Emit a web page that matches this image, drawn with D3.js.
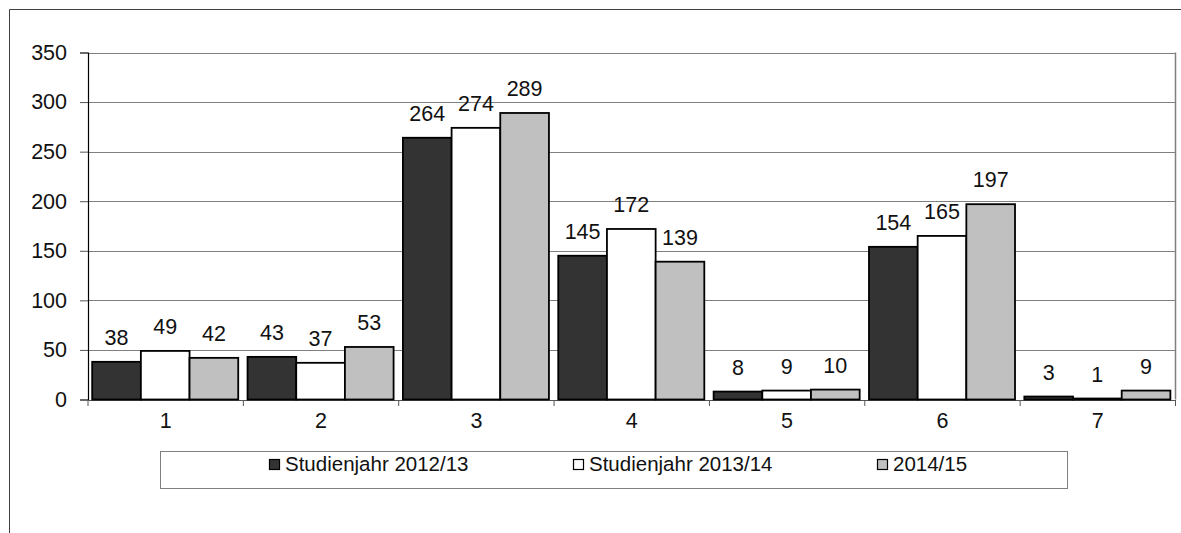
<!DOCTYPE html>
<html>
<head>
<meta charset="utf-8">
<script src="https://cdn.jsdelivr.net/npm/d3@7"></script>
<style>
  html, body { margin: 0; padding: 0; background: #fff; }
  svg { display: block; }
  text { font-family: "Liberation Sans", Arial, sans-serif; fill: #111; }
</style>
</head>
<body>
<svg id="chart" width="1181" height="533"></svg>
<script>
const categories = ["1", "2", "3", "4", "5", "6", "7"];
const seriesNames = ["Studienjahr 2012/13", "Studienjahr 2013/14", "2014/15"];
const values2012 = [38, 43, 264, 145, 8, 154, 3];
const values2013 = [49, 37, 274, 172, 9, 165, 1];
const values2014 = [42, 53, 289, 139, 10, 197, 9];
const yTicks = [0, 50, 100, 150, 200, 250, 300, 350];
const seriesColors = ["#333333", "#ffffff", "#c0c0c0"];

const seriesValues = [values2012, values2013, values2014];

const svg = d3.select("#chart");
const W = 1181, H = 533;
const numFont = 21.5;

// outer frame
svg.append("line").attr("x1", 9.5).attr("y1", 9.5).attr("x2", W).attr("y2", 9.5)
  .attr("stroke", "#404040").attr("stroke-width", 1);
svg.append("line").attr("x1", 9.5).attr("y1", 9.5).attr("x2", 9.5).attr("y2", H)
  .attr("stroke", "#404040").attr("stroke-width", 1);

const plot = { left: 88, right: 1175.5, top: 52.5, bottom: 399.5 };

const x0 = d3.scaleBand().domain(categories).range([plot.left, plot.right]).padding(0);
const bw = x0.bandwidth();
const x1 = d3.scaleBand().domain(d3.range(seriesNames.length))
  .range([bw * 0.027, bw * 0.967]).padding(0);
const y = d3.scaleLinear().domain([0, 350]).range([plot.bottom, plot.top]);

// gridlines
svg.append("g").selectAll("line").data(yTicks.filter(t => t > 0)).join("line")
  .attr("x1", plot.left).attr("x2", plot.right)
  .attr("y1", d => Math.round(y(d)) + 0.5).attr("y2", d => Math.round(y(d)) + 0.5)
  .attr("stroke", "#808080").attr("stroke-width", 1);

// plot area right border
svg.append("line").attr("x1", plot.right).attr("x2", plot.right)
  .attr("y1", plot.top).attr("y2", plot.bottom)
  .attr("stroke", "#808080").attr("stroke-width", 1.5);

// y axis
const yAxis = d3.axisLeft(y).tickValues(yTicks).tickSize(8).tickPadding(13);
const gy = svg.append("g").attr("transform", `translate(${plot.left},0)`).call(yAxis);
gy.select(".domain").attr("stroke", "#000").attr("stroke-width", 1.2);
gy.selectAll(".tick line").attr("stroke", "#555");
gy.selectAll(".tick text").attr("font-size", numFont).attr("font-family", "Liberation Sans, Arial, sans-serif").attr("fill", "#111");

// x axis
const xAxis = d3.axisBottom(x0).tickSize(0).tickPadding(13);
const gx = svg.append("g").attr("transform", `translate(0,${plot.bottom + 0.5})`).call(xAxis);
gx.select(".domain").attr("stroke", "#555").attr("stroke-width", 1);
gx.selectAll(".tick text").attr("font-size", numFont).attr("font-family", "Liberation Sans, Arial, sans-serif").attr("fill", "#111");
// category boundary ticks
const bounds = categories.map(c => x0(c)).concat([plot.right]);
gx.append("g").selectAll("line").data(bounds).join("line")
  .attr("x1", d => d).attr("x2", d => d).attr("y1", 0).attr("y2", 6)
  .attr("stroke", "#555").attr("stroke-width", 1);

// bars
const groups = svg.append("g").selectAll("g").data(categories).join("g")
  .attr("transform", c => `translate(${x0(c)},0)`);
groups.selectAll("rect").data((c, i) => seriesValues.map((s, k) => ({ k, v: s[i] }))).join("rect")
  .attr("x", d => x1(d.k))
  .attr("width", x1.bandwidth())
  .attr("y", d => y(d.v))
  .attr("height", d => y(0) - y(d.v))
  .attr("fill", d => seriesColors[d.k])
  .attr("stroke", "#000").attr("stroke-width", 1.8);

// labels
groups.selectAll("text.lbl").data((c, i) => seriesValues.map((s, k) => ({ k, v: s[i] }))).join("text")
  .attr("class", "lbl")
  .attr("x", d => x1(d.k) + x1.bandwidth() / 2)
  .attr("y", d => y(d.v) - 17)
  .attr("text-anchor", "middle")
  .attr("font-size", numFont)
  .text(d => d.v);

// legend
const lg = svg.append("g");
lg.append("rect").attr("x", 160.5).attr("y", 451.5).attr("width", 907).attr("height", 37)
  .attr("fill", "#fff").attr("stroke", "#808080").attr("stroke-width", 1);
const legendX = [269, 573, 877];
const items = lg.selectAll("g.item").data(seriesNames).join("g").attr("class", "item")
  .attr("transform", (d, i) => `translate(${legendX[i]},0)`);
items.append("rect").attr("x", 0.5).attr("y", 459.5).attr("width", 10).attr("height", 10)
  .attr("fill", (d, i) => seriesColors[i]).attr("stroke", "#000").attr("stroke-width", 1.2);
items.append("text").attr("x", 16).attr("y", 470.5).attr("font-size", 20.5).text(d => d);
</script>
</body>
</html>
